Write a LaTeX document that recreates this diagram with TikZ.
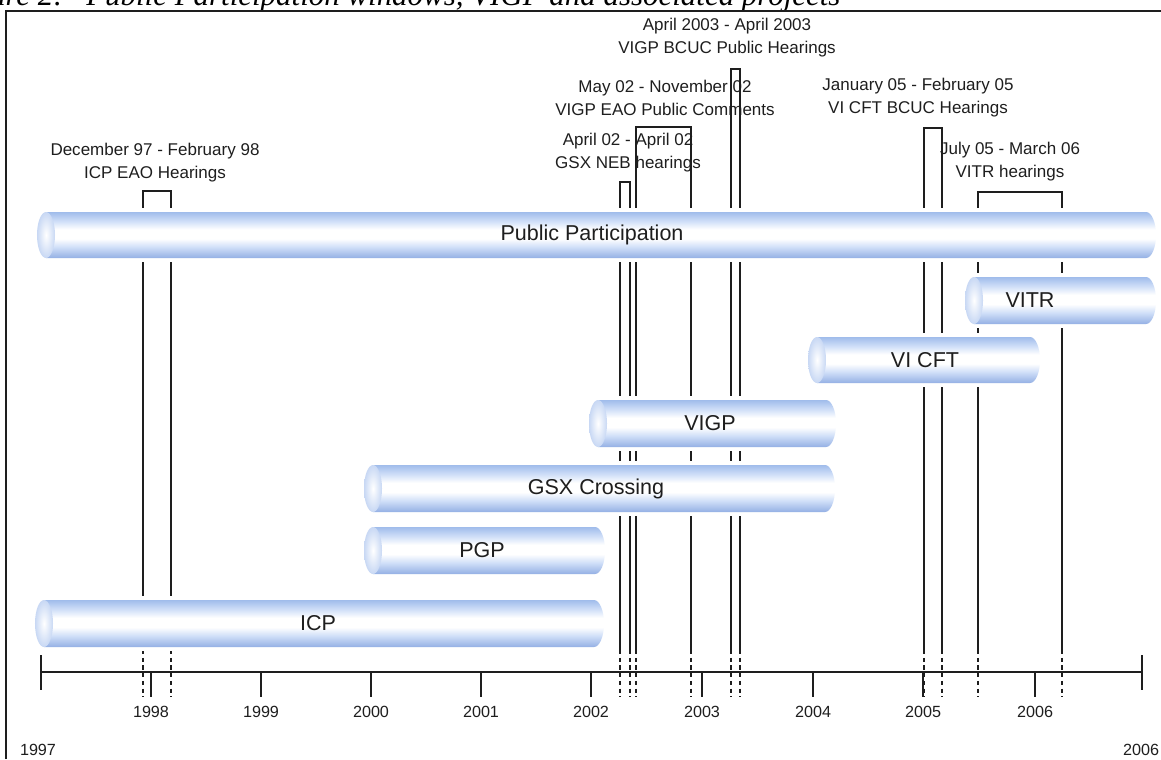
\documentclass[tikz,border=0pt]{standalone}
\usepackage{fontspec}
\setmainfont{Liberation Sans}
\newfontfamily\capfont{Liberation Serif}
\usepackage{tikz}
\usetikzlibrary{positioning}

\definecolor{pipeblue}{RGB}{160,188,235}
\definecolor{pipedark}{RGB}{148,176,228}
\definecolor{pipemid}{RGB}{208,223,248}
\definecolor{capblue}{RGB}{200,216,244}
\definecolor{inkgray}{RGB}{30,30,30}

\pgfdeclareverticalshading{pipeshade}{100bp}{color(0bp)=(pipedark); color(25bp)=(pipedark); color(37bp)=(pipemid); color(46bp)=(white); color(56bp)=(white); color(65bp)=(pipemid); color(75bp)=(pipeblue); color(100bp)=(pipeblue)}

% one pipe: left x, right x, top y, bottom y (picture pixels)
\newcommand{\pipebar}[4]{%
  \pgfmathsetmacro{\pipeL}{#1+9}%
  \pgfmathsetmacro{\pipeR}{#2-10}%
  \pgfmathsetmacro{\pipeM}{(#3+#4)/2}%
  \pgfmathsetmacro{\pipeH}{(#4-#3)*0.0125}%
  \fill[white] ({#1-3},{#3-4}) rectangle ({#2+3},{#4+4});
  \shade[shading=pipeshade] (\pipeL,#3) -- (\pipeR,#3)
    arc[start angle=90, end angle=-90, x radius=0.25cm, y radius=\pipeH*1cm]
    -- (\pipeL,#4) -- cycle;
  \shade[inner color=white, outer color=capblue] (\pipeL,\pipeM)
    ellipse[x radius=0.225cm, y radius=\pipeH*1cm];
}

\begin{document}
\begin{tikzpicture}[x=0.025cm, y=-0.025cm,
    pipelabel/.style={text=inkgray, font=\fontsize{15.3}{18}\selectfont},
    evlabel/.style={text=inkgray, align=center, inner sep=0pt, font=\fontsize{12.1}{16.4}\selectfont},
    yearlabel/.style={text=inkgray, inner sep=0pt, font=\fontsize{11.5}{13}\selectfont},
    evline/.style={draw=inkgray, line width=1.1pt},
    evdash/.style={draw=inkgray, line width=0.9pt, dash pattern=on 3pt off 2.5pt},
    axisline/.style={draw=inkgray, line width=1.8pt},
    tickline/.style={draw=inkgray, line width=1pt}]
    \useasboundingbox (0,0) rectangle (1161,759);

    % Caption and frame
    \node[anchor=base east, inner sep=0pt, font=\capfont\itshape\fontsize{22}{24}\selectfont] (fig) at (64,5) {Figure 2:};
    \node[anchor=base west, inner sep=0pt, font=\capfont\itshape\fontsize{22}{24}\selectfont] (title) at (86,5) {Public Participation windows, VIGP and associated projects};
    \coordinate (frameTL) at (6,11);
    \coordinate (frameBL) at (6,759);
    \coordinate (frameTR) at (1161,11);
    \draw[draw=inkgray, line width=1pt] (frameBL) -- (frameTL) -- (frameTR);

    % Hearing windows
    \coordinate (solidend) at (0,650);
    \coordinate (dashend) at (0,697);
    \coordinate (icpA) at (143,191);   \coordinate (icpB) at (171,191);
    \coordinate (gsxA) at (620,182);   \coordinate (gsxB) at (630,182);
    \coordinate (eaoA) at (636,127);   \coordinate (eaoB) at (691,127);
    \coordinate (bcucA) at (731,69);   \coordinate (bcucB) at (740,69);
    \coordinate (cftA) at (924,128);   \coordinate (cftB) at (942,128);
    \coordinate (vitrA) at (978,192);  \coordinate (vitrB) at (1062,192);

    \draw[evline] (icpA |- solidend) -- (icpA) -- (icpB) -- (icpB |- solidend);
    \draw[evline] (gsxA |- solidend) -- (gsxA) -- (gsxB) -- (gsxB |- solidend);
    \draw[evline] (eaoA |- solidend) -- (eaoA) -- (eaoB) -- (eaoB |- solidend);
    \draw[evline] (bcucA |- solidend) -- (bcucA) -- (bcucB) -- (bcucB |- solidend);
    \draw[evline] (cftA |- solidend) -- (cftA) -- (cftB) -- (cftB |- solidend);
    \draw[evline] (vitrA |- solidend) -- (vitrA) -- (vitrB) -- (vitrB |- solidend);

    \draw[evdash] (icpA |- solidend) -- (icpA |- dashend) (icpB |- solidend) -- (icpB |- dashend);
    \draw[evdash] (gsxA |- solidend) -- (gsxA |- dashend) (gsxB |- solidend) -- (gsxB |- dashend);
    \draw[evdash] (eaoA |- solidend) -- (eaoA |- dashend) (eaoB |- solidend) -- (eaoB |- dashend);
    \draw[evdash] (bcucA |- solidend) -- (bcucA |- dashend) (bcucB |- solidend) -- (bcucB |- dashend);
    \draw[evdash] (cftA |- solidend) -- (cftA |- dashend) (cftB |- solidend) -- (cftB |- dashend);
    \draw[evdash] (vitrA |- solidend) -- (vitrA |- dashend) (vitrB |- solidend) -- (vitrB |- dashend);

    % Projects
    \pipebar{37}{1156}{212}{258}
    \pipebar{965}{1156}{277}{324}
    \pipebar{808}{1040}{337}{383}
    \pipebar{589}{836}{400}{447}
    \pipebar{364}{835}{465}{512}
    \pipebar{364}{605}{527}{574}
    \pipebar{35}{604}{600}{647}

    \node[pipelabel] (pp) at (592,235) {Public Participation};
    \node[pipelabel] (vitr) at (1030,300) {VITR};
    \node[pipelabel] (vicft) at (925,360) {VI CFT};
    \node[pipelabel] (vigp) at (710,423) {VIGP};
    \node[pipelabel] (gsx) at (596,489) {GSX Crossing};
    \node[pipelabel] (pgp) at (482,550) {PGP};
    \node[pipelabel] (icp) at (318,623) {ICP};

    % Window labels
    \node[evlabel] (icpLab) at (155,163) {December 97 - February 98\\ICP EAO Hearings};
    \node[evlabel] (gsxLab) at (628,153) {April 02 - April 02\\GSX NEB hearings};
    \node[evlabel] (eaoLab) at (665,98) {May 02 - November 02\\VIGP EAO Public Comments};
    \node[evlabel] (bcucLab) at (727,38) {April 2003 - April 2003\\VIGP BCUC Public Hearings};
    \node[evlabel] (cftLab) at (918,98) {January 05 - February 05\\VI CFT BCUC Hearings};
    \node[evlabel] (vitrLab) at (1010,162) {July 05 - March 06\\VITR hearings};

    % Time axis
    \coordinate (axL) at (41,672);
    \coordinate (axR) at (1142,672);
    \draw[axisline] (axL) -- (axR);
    \draw[tickline] (41,655) -- (41,690);
    \draw[tickline] (1142,655) -- (1142,690);
    \node[yearlabel] (y1997) at (38,750) {1997};
    \node[yearlabel] (y2006end) at (1141,750) {2006};

    \draw[tickline] (151,672) -- (151,697);  \node[yearlabel] (y1998) at (151,712) {1998};
    \draw[tickline] (261,672) -- (261,697);  \node[yearlabel] (y1999) at (261,712) {1999};
    \draw[tickline] (371,672) -- (371,697);  \node[yearlabel] (y2000) at (371,712) {2000};
    \draw[tickline] (481,672) -- (481,697);  \node[yearlabel] (y2001) at (481,712) {2001};
    \draw[tickline] (591,672) -- (591,697);  \node[yearlabel] (y2002) at (591,712) {2002};
    \draw[tickline] (702,672) -- (702,697);  \node[yearlabel] (y2003) at (702,712) {2003};
    \draw[tickline] (813,672) -- (813,697);  \node[yearlabel] (y2004) at (813,712) {2004};
    \draw[tickline] (923,672) -- (923,697);  \node[yearlabel] (y2005) at (923,712) {2005};
    \draw[tickline] (1035,672) -- (1035,697); \node[yearlabel] (y2006) at (1035,712) {2006};
\end{tikzpicture}
\end{document}
